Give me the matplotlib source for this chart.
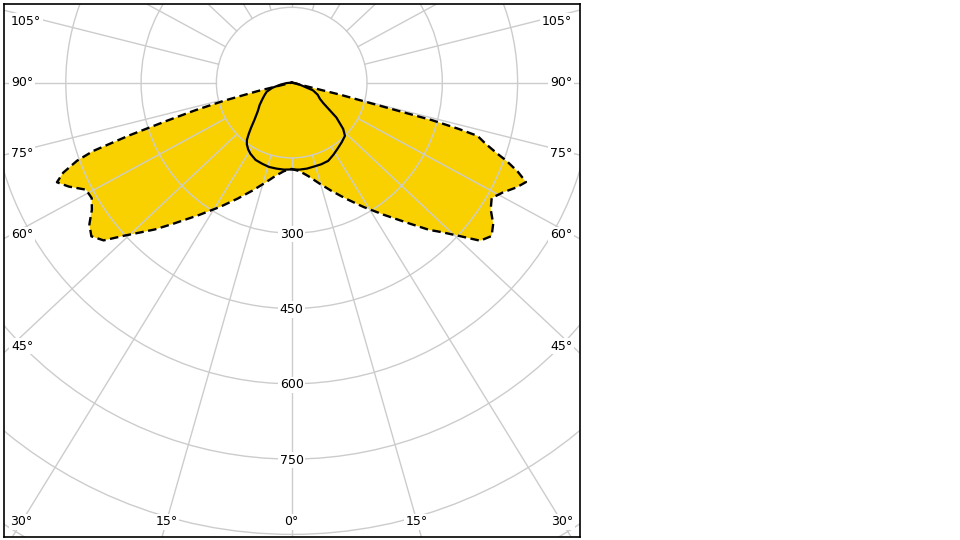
import numpy as np
import matplotlib.pyplot as plt
from matplotlib.patches import Circle

# luminous intensity (cd/klm) against gamma angle from nadir
# dashed curve: C90 half on the right, C270 half on the left
ang_c90 = [0, 5, 10, 15, 20, 25, 30, 35, 40, 43, 45, 47.5, 50, 52.5, 55, 57.5, 60,
           62.5, 65, 67, 68.5, 70, 71, 72.5, 74, 74.5, 75, 76, 77, 90]
val_c90 = [172, 177, 189, 207, 229, 255, 286, 322, 367, 401, 421, 452, 490, 502, 490, 470, 460,
           474, 494, 507, 484, 455, 432, 405, 385, 345, 290, 100, 0, 0]
ang_c270 = [0, 5, 10, 15, 20, 25, 30, 35, 40, 43, 45, 47.5, 50, 52.5, 55, 57.5, 60,
            62.5, 65, 67, 68.5, 70, 71, 72, 73, 74, 75, 76, 77, 90]
val_c270 = [172, 177, 189, 207, 229, 255, 286, 322, 367, 400, 421, 451, 489, 503, 492, 472, 460,
            462, 490, 508, 489, 455, 418, 340, 260, 200, 140, 70, 0, 0]
# solid curve: C0 half on the right, C180 half on the left
ang_c0 = [0, 5, 10, 15, 20, 25, 30, 35, 40, 45, 48, 52, 57, 60, 65, 70, 75, 80, 85, 90]
val_c0 = [173, 174, 174, 173, 173, 172, 166, 160, 155, 150, 138, 113, 75, 65, 57, 45, 18, 10, 3, 0]
ang_c180 = [0, 5, 10, 15, 20, 25, 30, 33, 36, 38, 40, 42, 45, 50, 55, 60, 65, 70, 75, 80, 85, 90]
val_c180 = [173, 174, 174, 174, 172, 170, 164, 159, 152, 145, 133, 121, 105, 88, 78, 68, 60, 53, 40, 22, 10, 0]

grid_rings = [150, 300, 450, 600, 750, 900, 1050]
ring_labels = [300, 450, 600, 750]
angle_labels = [0, 15, 30, 45, 60, 75, 90, 105]
spokes = list(range(0, 360, 15))

YELLOW = '#F9D100'
GRID = '#cccccc'
K = 1.065  # spokes are drawn slightly wider than true angles in the original


def to_xy(ang, val, side):
    a = np.radians(ang)
    v = np.asarray(val, float)
    return side * v * np.sin(a), -v * np.cos(a)


def closed_curve(ang_r, val_r, ang_l, val_l):
    xr, yr = to_xy(ang_r, val_r, 1)
    xl, yl = to_xy(ang_l, val_l, -1)
    return np.r_[xr[::-1], xl], np.r_[yr[::-1], yl]


fig = plt.figure(figsize=(9.6, 5.4), dpi=100)
ax = fig.add_axes([4 / 960, 3 / 540, 576 / 960, 533 / 540])
ax.set_xlim(-573.1, 574.3)
ax.set_ylim(-905.2, 156.6)
ax.set_xticks([])
ax.set_yticks([])
for sp in ax.spines.values():
    sp.set_linewidth(1.2)
    sp.set_color('black')

xd, yd = closed_curve(ang_c90, val_c90, ang_c270, val_c270)
xs, ys = closed_curve(ang_c0, val_c0, ang_c180, val_c180)

# yellow areas under the grid
ax.fill(xd, yd, color=YELLOW, lw=0, zorder=1)
ax.fill(xs, ys, color=YELLOW, lw=0, zorder=1)

# grid: rings and spokes (spokes start at first ring)
for r in grid_rings:
    ax.add_patch(Circle((0, 0), r, fill=False, ec=GRID, lw=1, zorder=2))
for a in spokes:
    t = np.radians(a)
    d = np.array([K * np.sin(t), -np.cos(t)])
    d = d / np.hypot(*d)
    ax.plot([150 * d[0], 2000 * d[0]], [150 * d[1], 2000 * d[1]], color=GRID, lw=1, zorder=2)

ax.plot(xd, yd, color='black', lw=1.7, ls=(0, (3.6, 1.9)), zorder=3)
ax.plot(xs, ys, color='black', lw=1.6, zorder=4)

lbl = dict(fontsize=9, family='DejaVu Sans', va='center', zorder=5,
           bbox=dict(fc='white', ec='none', pad=1.2))

for r in ring_labels:
    ax.text(0, -r - 2, str(r), ha='center', **lbl)

# angle labels sit where each spoke meets the inner edge of the frame
for a in angle_labels:
    for side in ((1, -1) if a else (1,)):
        t = np.radians(a)
        dx, dy = side * K * np.sin(t), -np.cos(t)
        t_side = 559 / abs(dx) if dx else np.inf
        t_bot = 875.3 / -dy if dy < 0 else np.inf
        if t_side < t_bot:
            y = min(dy * t_side, 122.7)
            x = side * 559
            ha = 'right' if side > 0 else 'left'
        else:
            x, y, ha = dx * t_bot, -875.3, 'center'
        ax.text(x, y, f'{a}°', ha=ha, **lbl)

fig.savefig('out.png', dpi=100)
